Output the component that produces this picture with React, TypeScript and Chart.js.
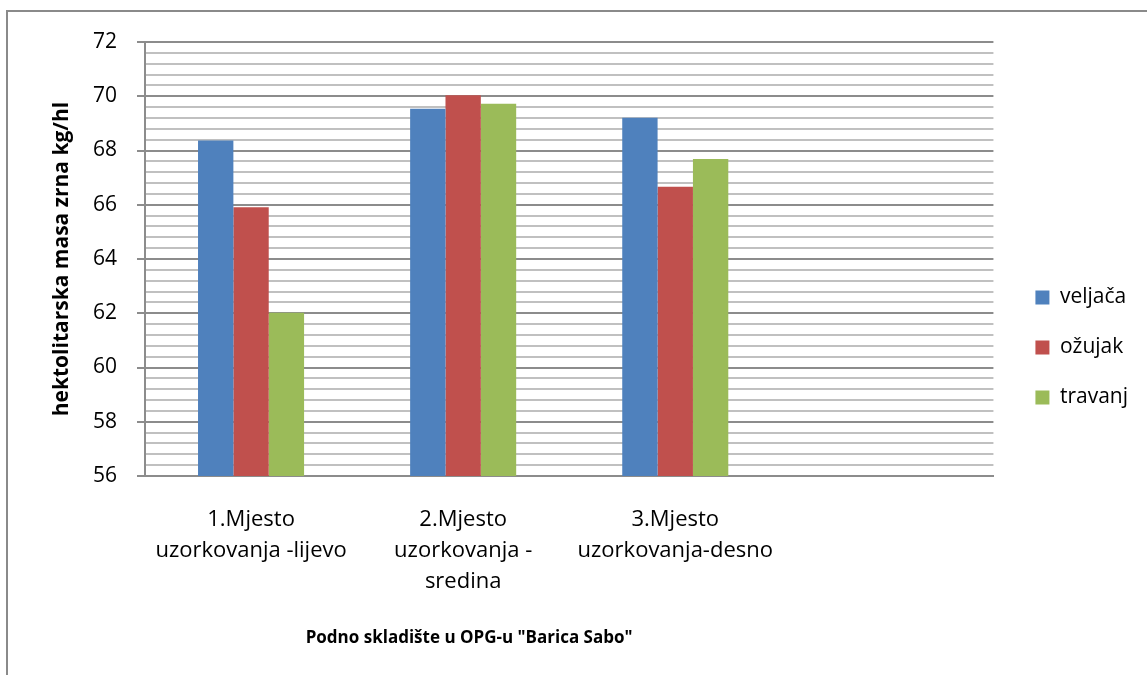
import React, { useEffect, useRef } from "react";
import { Chart, registerables } from "chart.js";

Chart.register(...registerables);

const categories: (string | string[])[] = [
  ["1.Mjesto", "uzorkovanja -lijevo"],
  ["2.Mjesto", "uzorkovanja -", "sredina"],
  ["3.Mjesto", "uzorkovanja-desno"],
  "",
];
const veljaca = [68.37, 69.54, 69.21, null];
const ozujak = [65.91, 70.04, 66.66, null];
const travanj = [62.02, 69.72, 67.69, null];
const seriesNames = ["veljača", "ožujak", "travanj"];
const yMin = 56;
const yMax = 72;
const yMinorStep = 0.4;
const yMajorStep = 2;
const yTitle = "hektolitarska masa zrna kg/hl";
const xTitle = 'Podno skladište u OPG-u "Barica Sabo"';

const FONT = "'Open Sans', 'DejaVu Sans', sans-serif";

const isMajor = (v: number) => Math.abs(v / yMajorStep - Math.round(v / yMajorStep)) < 1e-6;

export default function App() {
  const ref = useRef<HTMLCanvasElement | null>(null);

  useEffect(() => {
    if (!ref.current) return;
    const xTitlePlugin = {
      id: "xTitlePlugin",
      afterDraw(chart: any) {
        const ctx = chart.ctx;
        const area = chart.chartArea;
        ctx.save();
        ctx.font = `bold 17px ${FONT}`;
        ctx.fillStyle = "#000";
        ctx.textAlign = "center";
        ctx.textBaseline = "middle";
        ctx.fillText(xTitle, area.left + (area.right - area.left) * 0.382, 638);
        ctx.restore();
      },
    };
    const chart = new Chart(ref.current, {
      type: "bar",
      data: {
        labels: categories,
        datasets: [
          { label: seriesNames[0], data: veljaca, backgroundColor: "#4F81BD", borderWidth: 0 },
          { label: seriesNames[1], data: ozujak, backgroundColor: "#C0504D", borderWidth: 0 },
          { label: seriesNames[2], data: travanj, backgroundColor: "#9BBB59", borderWidth: 0 },
        ],
      },
      options: {
        responsive: false,
        maintainAspectRatio: false,
        animation: false,
        layout: { padding: { left: 45, top: 42, right: 9, bottom: 22 } },
        plugins: {
          tooltip: { enabled: false },
          legend: {
            position: "right",
            labels: {
              boxWidth: 14,
              boxHeight: 14,
              padding: 29,
              color: "#000",
              font: { family: FONT, size: 21 },
            },
          },
        },
        datasets: {
          bar: { categoryPercentage: 0.5, barPercentage: 1.0 },
        },
        scales: {
          x: {
            grid: { display: false, drawTicks: false },
            border: { display: true, color: "#8c8c8c", width: 2 },
            ticks: {
              color: "#000",
              padding: 28,
              maxRotation: 0,
              autoSkip: false,
              font: { family: FONT, size: 22, lineHeight: 1.41 },
            },
            afterFit(scale: any) {
              scale.height = 177;
            },
          },
          y: {
            min: yMin,
            max: yMax,
            border: { display: true, color: "#8c8c8c", width: 2 },
            grid: {
              color: (c: any) => (isMajor(c.tick?.value ?? 0) ? "#8c8c8c" : "#c0c0c0"),
              tickColor: (c: any) => (isMajor(c.tick?.value ?? 0) ? "#8c8c8c" : "rgba(0,0,0,0)"),
              lineWidth: 2,
              tickLength: 8,
            },
            ticks: {
              stepSize: yMinorStep,
              autoSkip: false,
              color: "#000",
              padding: 20,
              font: { family: FONT, size: 21 },
              callback: (v: any) => (isMajor(Number(v)) ? String(Math.round(Number(v))) : ""),
            },
            title: {
              display: true,
              text: yTitle,
              color: "#000",
              font: { family: FONT, size: 21, weight: "bold" },
              padding: { top: 4, bottom: 0 },
            },
            afterFit(scale: any) {
              scale.width = 100;
            },
          },
          gap: {
            type: "linear",
            position: "right",
            display: true,
            grid: { display: false, drawTicks: false },
            border: { display: false },
            ticks: { display: false },
            afterFit(scale: any) {
              scale.width = 13;
            },
          },
        },
      },
      plugins: [xTitlePlugin],
    } as any);
    return () => chart.destroy();
  }, []);

  return (
    <div style={{ position: "absolute", left: 0, top: 0, width: 1147, height: 675, overflow: "hidden", background: "#fff" }}>
      <div
        style={{
          position: "absolute",
          left: 6,
          top: 10,
          width: 1200,
          height: 800,
          borderTop: "2px solid #8a8a8a",
          borderLeft: "2px solid #8a8a8a",
        }}
      />
      <canvas ref={ref} width={1147} height={675} style={{ position: "absolute", left: 0, top: 0 }} />
    </div>
  );
}
